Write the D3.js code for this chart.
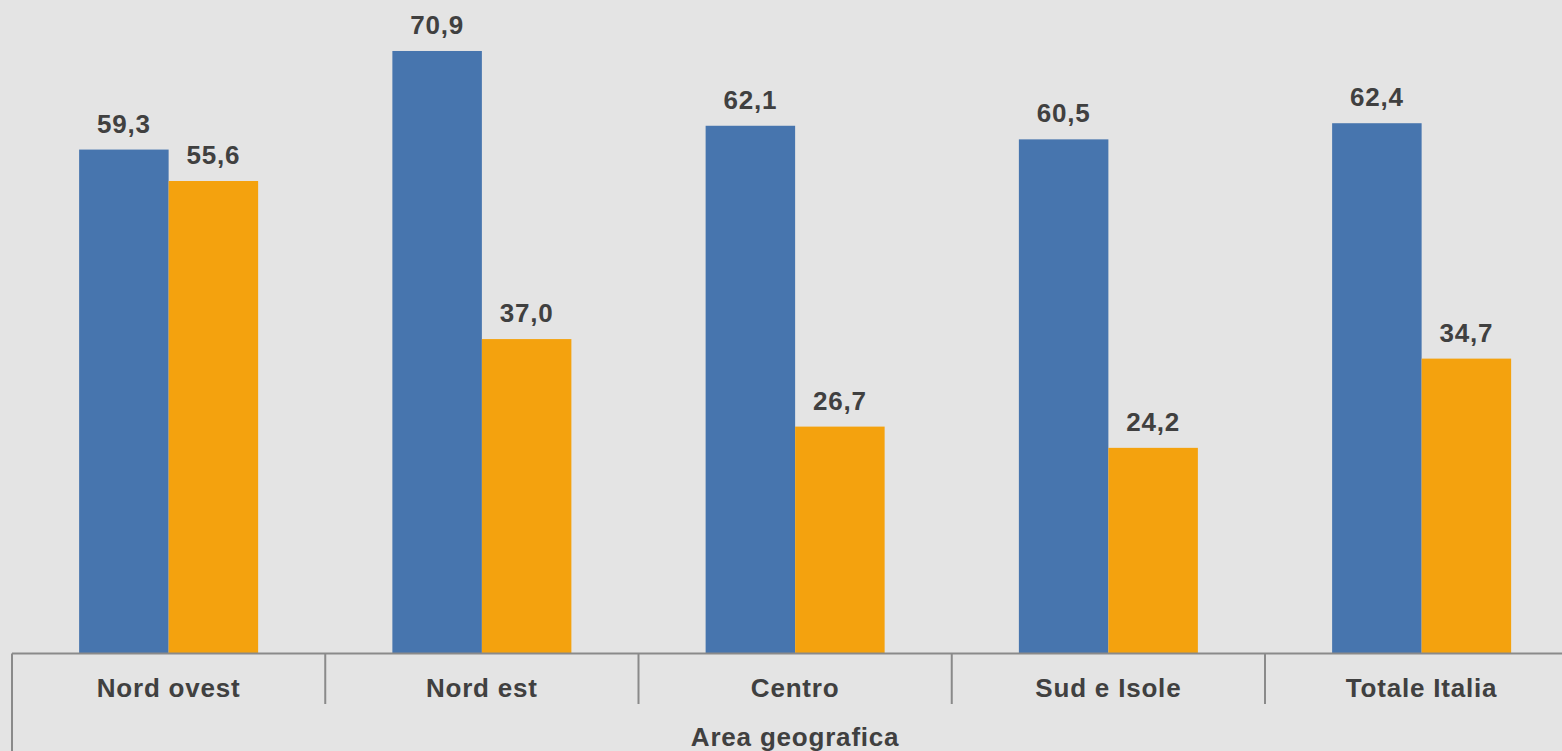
<!DOCTYPE html>
<html>
<head>
<meta charset="utf-8">
<script src="https://cdn.jsdelivr.net/npm/d3@7"></script>
<style>
  html, body { margin: 0; padding: 0; background: #e4e4e4; }
  svg { display: block; }
  text { font-family: "Liberation Sans", Arial, sans-serif; font-weight: bold; fill: #404040; letter-spacing: 0.8px; }
</style>
</head>
<body>
<svg id="chart" width="1562" height="751"></svg>
<script>
// dati
const categories = ["Nord ovest", "Nord est", "Centro", "Sud e Isole", "Totale Italia"];
const serieBlu = [59.3, 70.9, 62.1, 60.5, 62.4];
const serieArancio = [55.6, 37.0, 26.7, 24.2, 34.7];
const seriesNames = ["blu", "arancio"];
const axisTitle = "Area geografica";

const colors = { blu: "#4775ae", arancio: "#f4a20e" };

const svg = d3.select("#chart");

const baseline = 653.5;
const left = 12;
const right = 1578.25;

const x = d3.scaleBand()
  .domain(categories)
  .range([left, right])
  .padding(0);

const xSub = d3.scaleBand()
  .domain(seriesNames)
  .range([0, x.bandwidth()])
  .paddingInner(0)
  .paddingOuter(0.75);

const y = d3.scaleLinear()
  .domain([0, 76.9])
  .range([baseline, 0]);

const rows = categories.map((c, i) => ({
  cat: c,
  values: [
    { key: "blu", value: serieBlu[i] },
    { key: "arancio", value: serieArancio[i] }
  ]
}));

const fmt = v => d3.format(".1f")(v).replace(".", ",");

// BARRE
const groups = svg.append("g")
  .selectAll("g")
  .data(rows)
  .join("g")
  .attr("transform", d => `translate(${x(d.cat)},0)`);

groups.selectAll("rect")
  .data(d => d.values)
  .join("rect")
  .attr("x", d => xSub(d.key))
  .attr("y", d => y(d.value))
  .attr("width", xSub.bandwidth())
  .attr("height", d => baseline - y(d.value))
  .attr("fill", d => colors[d.key]);

// ETICHETTE VALORI
groups.selectAll("text")
  .data(d => d.values)
  .join("text")
  .attr("x", d => xSub(d.key) + xSub.bandwidth() / 2)
  .attr("y", d => y(d.value) - 17)
  .attr("text-anchor", "middle")
  .attr("font-size", "26px")
  .text(d => fmt(d.value));

// ASSE X
const axis = svg.append("g");

axis.append("line")
  .attr("x1", left).attr("x2", right)
  .attr("y1", baseline).attr("y2", baseline)
  .attr("stroke", "#8a8a8a")
  .attr("stroke-width", 2);

const ticks = categories.map(c => x(c)).concat([right]);
axis.selectAll("line.tick")
  .data(ticks)
  .join("line")
  .attr("class", "tick")
  .attr("x1", d => d).attr("x2", d => d)
  .attr("y1", baseline)
  .attr("y2", (d, i) => i === 0 ? 751 : 704)
  .attr("stroke", "#8a8a8a")
  .attr("stroke-width", 2);

axis.selectAll("text.cat")
  .data(categories)
  .join("text")
  .attr("class", "cat")
  .attr("x", d => x(d) + x.bandwidth() / 2)
  .attr("y", 697)
  .attr("text-anchor", "middle")
  .attr("font-size", "26px")
  .text(d => d);

svg.append("text")
  .attr("x", (left + right) / 2)
  .attr("y", 746)
  .attr("text-anchor", "middle")
  .attr("font-size", "26px")
  .text(axisTitle);
</script>
</body>
</html>
